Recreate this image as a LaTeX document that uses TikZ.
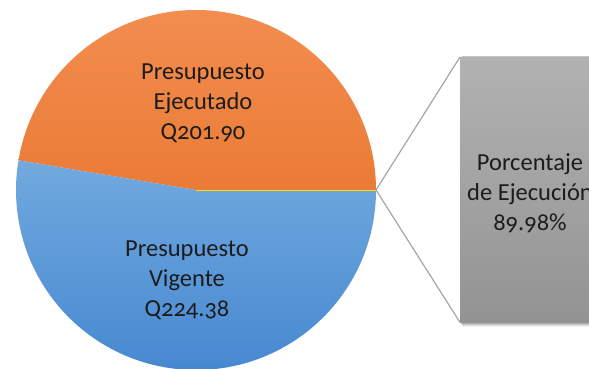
\documentclass[tikz,border=0pt]{standalone}
\usepackage{fontspec}
\setmainfont{Carlito}[Numbers=OldStyle]
\usetikzlibrary{shadings}
\definecolor{orgtop}{HTML}{F28D50}
\definecolor{orgbot}{HTML}{E46A1C}
\definecolor{blutop}{HTML}{72AADF}
\definecolor{blubot}{HTML}{4587D0}
\definecolor{grytop}{HTML}{B2B2B2}
\definecolor{grybot}{HTML}{939393}
\definecolor{txt}{HTML}{1C1C1C}
\definecolor{conn}{HTML}{A6A6A6}
\tikzset{
  lbl/.style={align=center, text=txt, font=\fontsize{24.5}{30}\selectfont, inner sep=0pt},
  connline/.style={draw=conn, line width=1.2pt},
}
\begin{document}
\begin{tikzpicture}[x=1pt,y=1pt]
\useasboundingbox (0,0) rectangle (589,368);
\clip (0,0) rectangle (589,368);
\fill[white] (0,0) rectangle (589,368);
% pie
\coordinate (c) at (196,178);
\coordinate (r) at (376,178);
\begin{scope}
  \clip (c) -- (r) arc[start angle=0,end angle=170.5,radius=180] -- cycle;
  \shade[top color=orgtop,bottom color=orgbot] (10,0) rectangle (380,360);
\end{scope}
\begin{scope}
  \clip (c) -- (r) arc[start angle=0,end angle=-189.5,radius=180] -- cycle;
  \shade[top color=blutop,bottom color=blubot] (10,-10) rectangle (380,210);
\end{scope}
\draw[draw=yellow!80!orange, line width=0.8pt] (c) -- (r);
% box shadow
\foreach \o/\a in {4/0.06,3/0.08,2/0.1,1/0.12}{
  \fill[black,opacity=\a] (460+\o*0.5,45-\o) rectangle (620,311+\o*0.3);
}
\node[draw=none, minimum width=150pt, minimum height=265pt, anchor=north west,
      top color=grytop, bottom color=grybot, inner sep=0pt] (box) at (460,311) {};
\coordinate (bt) at (box.north west);
\coordinate (bb) at (box.south west);
\draw[connline] (r) -- (bt);
\draw[connline] (r) -- (bb);
% labels
\node[lbl] (exe) at (203,265) {Presupuesto\\Ejecutado\\Q201.90};
\node[lbl] (vig) at (187,88) {Presupuesto\\Vigente\\Q224.38};
\node[lbl] (pct) at (530,175) {Porcentaje\\de Ejecución\\89.98\%};
\end{tikzpicture}
\end{document}
